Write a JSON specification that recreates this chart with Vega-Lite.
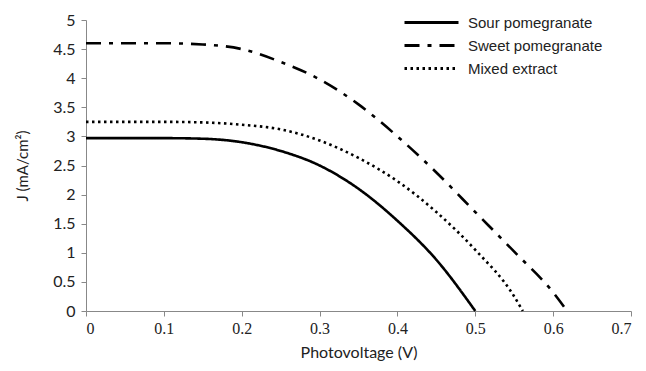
{
  "$schema": "https://vega.github.io/schema/vega-lite/v6.json",
  "width": 545,
  "height": 291,
  "autosize": {"type": "none"},
  "padding": {"left": 86, "top": 20, "right": 15, "bottom": 60},
  "background": "white",
  "config": {"view": {"stroke": null}},
  "data": {
    "values": [
      {"V": 0, "J": 2.97, "s": "Sour pomegranate"},
      {"V": 0.05, "J": 2.97, "s": "Sour pomegranate"},
      {"V": 0.1, "J": 2.97, "s": "Sour pomegranate"},
      {"V": 0.15, "J": 2.96, "s": "Sour pomegranate"},
      {"V": 0.2, "J": 2.9, "s": "Sour pomegranate"},
      {"V": 0.25, "J": 2.75, "s": "Sour pomegranate"},
      {"V": 0.3, "J": 2.5, "s": "Sour pomegranate"},
      {"V": 0.35, "J": 2.1, "s": "Sour pomegranate"},
      {"V": 0.4, "J": 1.55, "s": "Sour pomegranate"},
      {"V": 0.45, "J": 0.88, "s": "Sour pomegranate"},
      {"V": 0.5, "J": 0, "s": "Sour pomegranate"},
      {"V": 0, "J": 4.6, "s": "Sweet pomegranate"},
      {"V": 0.05, "J": 4.6, "s": "Sweet pomegranate"},
      {"V": 0.1, "J": 4.6, "s": "Sweet pomegranate"},
      {"V": 0.15, "J": 4.58, "s": "Sweet pomegranate"},
      {"V": 0.2, "J": 4.5, "s": "Sweet pomegranate"},
      {"V": 0.25, "J": 4.28, "s": "Sweet pomegranate"},
      {"V": 0.3, "J": 3.98, "s": "Sweet pomegranate"},
      {"V": 0.35, "J": 3.55, "s": "Sweet pomegranate"},
      {"V": 0.4, "J": 3.0, "s": "Sweet pomegranate"},
      {"V": 0.45, "J": 2.38, "s": "Sweet pomegranate"},
      {"V": 0.5, "J": 1.7, "s": "Sweet pomegranate"},
      {"V": 0.55, "J": 1.02, "s": "Sweet pomegranate"},
      {"V": 0.6, "J": 0.32, "s": "Sweet pomegranate"},
      {"V": 0.618, "J": 0, "s": "Sweet pomegranate"},
      {"V": 0, "J": 3.25, "s": "Mixed extract"},
      {"V": 0.05, "J": 3.25, "s": "Mixed extract"},
      {"V": 0.1, "J": 3.25, "s": "Mixed extract"},
      {"V": 0.15, "J": 3.24, "s": "Mixed extract"},
      {"V": 0.2, "J": 3.2, "s": "Mixed extract"},
      {"V": 0.25, "J": 3.12, "s": "Mixed extract"},
      {"V": 0.3, "J": 2.93, "s": "Mixed extract"},
      {"V": 0.35, "J": 2.63, "s": "Mixed extract"},
      {"V": 0.4, "J": 2.23, "s": "Mixed extract"},
      {"V": 0.45, "J": 1.7, "s": "Mixed extract"},
      {"V": 0.5, "J": 1.05, "s": "Mixed extract"},
      {"V": 0.55, "J": 0.25, "s": "Mixed extract"},
      {"V": 0.561, "J": 0, "s": "Mixed extract"}
    ]
  },
  "mark": {"type": "line", "interpolate": "monotone", "color": "black", "strokeWidth": 2.6, "strokeCap": "butt"},
  "encoding": {
    "x": {
      "field": "V", "type": "quantitative",
      "scale": {"domain": [0, 0.7], "nice": false},
      "axis": {
        "title": "Photovoltage (V)",
        "values": [0, 0.1, 0.2, 0.3, 0.4, 0.5, 0.6, 0.7],
        "format": "~g",
        "grid": false,
        "domainColor": "#888", "tickColor": "#888", "tickSize": 5,
        "labelFont": "Liberation Serif", "labelFontSize": 16, "labelColor": "#222", "labelPadding": 4,
        "titleFont": "Lato", "titleFontSize": 16, "titleFontWeight": "normal", "titleColor": "#222", "titlePadding": 8
      }
    },
    "y": {
      "field": "J", "type": "quantitative",
      "scale": {"domain": [0, 5], "nice": false},
      "axis": {
        "title": "J (mA/cm²)",
        "values": [0, 0.5, 1, 1.5, 2, 2.5, 3, 3.5, 4, 4.5, 5],
        "format": "~g",
        "grid": false,
        "domainColor": "#888", "tickColor": "#888", "tickSize": 5,
        "labelFont": "Lato", "labelFontSize": 16, "labelColor": "#222", "labelPadding": 6,
        "titleFont": "Lato", "titleFontSize": 15, "titleFontWeight": "normal", "titleColor": "#222", "titlePadding": 22
      }
    },
    "strokeDash": {
      "field": "s", "type": "nominal",
      "scale": {
        "domain": ["Sour pomegranate", "Sweet pomegranate", "Mixed extract"],
        "range": [[1, 0], [15, 8, 4, 8], [2.5, 3.5]]
      },
      "legend": {
        "title": null,
        "orient": "none",
        "legendX": 335,
        "legendY": -8,
        "symbolType": "M-3,0H3",
        "symbolSize": 324,
        "symbolStrokeWidth": 3,
        "symbolStrokeColor": "black",
        "labelFont": "Liberation Sans",
        "labelFontSize": 15,
        "labelColor": "#222",
        "labelOffset": 26,
        "rowPadding": 4
      }
    }
  }
}
